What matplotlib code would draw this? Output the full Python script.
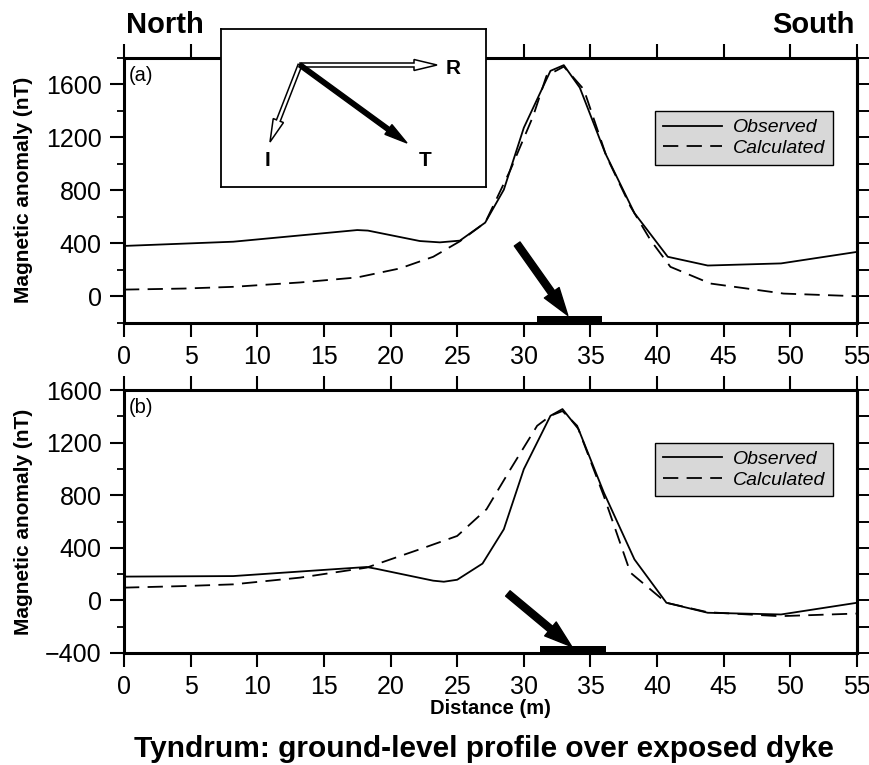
import matplotlib
matplotlib.use('Agg')
import matplotlib.pyplot as plt
from matplotlib.ticker import MultipleLocator
from matplotlib.patches import FancyArrow

plt.rcParams['font.family'] = ['Liberation Sans', 'DejaVu Sans']
plt.rcParams['lines.scale_dashes'] = False

# panel (a) - readings off the profile
x_obs_a = [0, 8.2, 17.5, 18.3, 22.2, 23.7, 25.2, 27.1, 28.5, 30.0, 32.0, 33.0, 34.2, 36.1, 38.3, 40.8, 43.8, 49.3, 55]
y_obs_a = [380, 412, 500, 496, 417, 407, 420, 556, 805, 1273, 1703, 1746, 1576, 1083, 628, 298, 232, 248, 335]
x_cal_a = [0, 4.5, 8.2, 13.2, 17.5, 20.7, 23.2, 25.2, 27.1, 29.0, 30.7, 31.7, 33.0, 34.5, 36.2, 38.0, 39.5, 41.0, 44.0, 49.5, 55]
y_cal_a = [50, 58, 71, 104, 142, 210, 298, 415, 556, 956, 1361, 1665, 1735, 1563, 1057, 678, 425, 222, 96, 20, 0]

# panel (b)
x_obs_b = [0, 8.2, 18.2, 18.9, 23.2, 24.0, 25.0, 26.9, 28.5, 30.0, 32.0, 32.9, 34.1, 36.0, 38.3, 40.7, 43.8, 49.3, 55]
y_obs_b = [181, 185, 254, 241, 150, 142, 157, 280, 541, 998, 1404, 1455, 1303, 821, 312, -18, -94, -107, -18]
x_cal_b = [0, 4.5, 8.2, 13.2, 18.2, 22.2, 25.0, 27.2, 29.0, 31.0, 32.0, 32.9, 34.0, 36.0, 38.0, 40.7, 43.8, 49.2, 55]
y_cal_b = [97, 109, 122, 173, 249, 389, 490, 693, 998, 1328, 1404, 1440, 1328, 795, 211, -18, -90, -120, -100]

# dyke position and arrows (start, end), (tail, tip)
dyke_a = (31.0, 35.9)
dyke_b = (31.2, 36.2)
arrow_a = ((29.5, 395), (33.3, -145))
arrow_b = ((28.8, 53), (33.6, -352))

ylims = [(-200, 1800), (-400, 1600)]
yticks = [[0, 400, 800, 1200, 1600], [-400, 0, 400, 800, 1200, 1600]]

W, H = 870, 765
fig = plt.figure(figsize=(W / 100, H / 100), dpi=100)
ax_a = fig.add_axes([124 / W, 1 - 322.7 / H, 733 / W, 264.7 / H])
ax_b = fig.add_axes([124 / W, 1 - 653 / H, 733 / W, 263 / H])

panels = [
    (ax_a, x_obs_a, y_obs_a, x_cal_a, y_cal_a, dyke_a, arrow_a, '(a)', ylims[0], yticks[0]),
    (ax_b, x_obs_b, y_obs_b, x_cal_b, y_cal_b, dyke_b, arrow_b, '(b)', ylims[1], yticks[1]),
]

for ax, xo, yo, xc, yc, dyke, arr, lab, ylim, yt in panels:
    ax.plot(xo, yo, color='black', lw=1.3, label='Observed')
    ax.plot(xc, yc, color='black', lw=1.3, ls=(0, (11, 6)), label='Calculated')
    ax.set_xlim(0, 55)
    ax.set_ylim(*ylim)
    ax.set_xticks(range(0, 56, 5))
    ax.set_yticks(yt)
    ax.yaxis.set_minor_locator(MultipleLocator(200))
    ax.tick_params(axis='both', which='major', direction='out', length=10, width=1.5,
                   labelsize=18, pad=6, top=True, right=False)
    ax.tick_params(axis='y', which='minor', direction='out', length=5, width=1.3, right=False)
    for s in ax.spines.values():
        s.set_linewidth(2.2)
    sec = ax.secondary_yaxis('right')
    sec.yaxis.set_major_locator(MultipleLocator(200))
    sec.tick_params(direction='out', length=9, width=1.4, labelright=False)
    sec.spines['right'].set_linewidth(2.2)

    # dyke bar and arrow
    bar_h = 0.027 * (ylim[1] - ylim[0])
    ax.bar((dyke[0] + dyke[1]) / 2, bar_h, width=dyke[1] - dyke[0], bottom=ylim[0],
           color='black', zorder=3)
    ax.annotate('', xy=arr[1], xytext=arr[0],
                arrowprops=dict(arrowstyle='simple,head_length=1.0,head_width=0.65,tail_width=0.25',
                                color='black', mutation_scale=20, shrinkA=0, shrinkB=0))

    ax.text(0.007, 0.968, lab, transform=ax.transAxes, ha='left', va='top', fontsize=14.5)
    leg = ax.legend(loc='upper left', bbox_to_anchor=(0.725, 0.8), borderaxespad=0,
                    prop={'style': 'italic', 'size': 14}, handlelength=3.0, handletextpad=0.6,
                    borderpad=0.4, labelspacing=0.15, fancybox=False, framealpha=1,
                    facecolor='#d8d8d8', edgecolor='black')
    leg.get_frame().set_linewidth(1.0)
    ax.set_ylabel('Magnetic anomaly (nT)', fontsize=15, fontweight='bold')
    ax.yaxis.set_label_coords(-0.124, 0.5)

ax_b.set_xlabel('Distance (m)', fontsize=14.5, fontweight='bold', labelpad=0)

# North / South and title
fig.text(126 / W, 1 - 33 / H, 'North', fontsize=21, fontweight='bold', ha='left', va='baseline')
fig.text(855 / W, 1 - 33 / H, 'South', fontsize=21, fontweight='bold', ha='right', va='baseline')
fig.text(484 / W, 1 - 757 / H, 'Tyndrum: ground-level profile over exposed dyke',
         fontsize=21.5, fontweight='bold', ha='center', va='baseline')

# field vector inset (pixel coordinates)
ins = fig.add_axes([221 / W, 1 - 187 / H, 265 / W, 158 / H], zorder=5)
ins.set_xlim(221, 486)
ins.set_ylim(187, 29)
ins.set_xticks([])
ins.set_yticks([])
ins.set_facecolor('white')
for s in ins.spines.values():
    s.set_linewidth(1.3)

origin = (300, 65)
ins.add_patch(FancyArrow(origin[0], origin[1], 137, 0, width=4, head_width=11, head_length=23,
                         length_includes_head=True, fc='white', ec='black', lw=1.1))
ins.add_patch(FancyArrow(origin[0], origin[1], -30, 77, width=4, head_width=11, head_length=23,
                         length_includes_head=True, fc='white', ec='black', lw=1.1))
ins.add_patch(FancyArrow(origin[0], origin[1], 107, 78, width=4.5, head_width=12, head_length=23,
                         length_includes_head=True, fc='black', ec='black', lw=1))
ins.text(453, 68, 'R', fontsize=15, fontweight='bold', ha='center', va='center')
ins.text(267, 160, 'I', fontsize=15, fontweight='bold', ha='center', va='center')
ins.text(425, 160, 'T', fontsize=15, fontweight='bold', ha='center', va='center')

fig.savefig('out.png', dpi=100)
